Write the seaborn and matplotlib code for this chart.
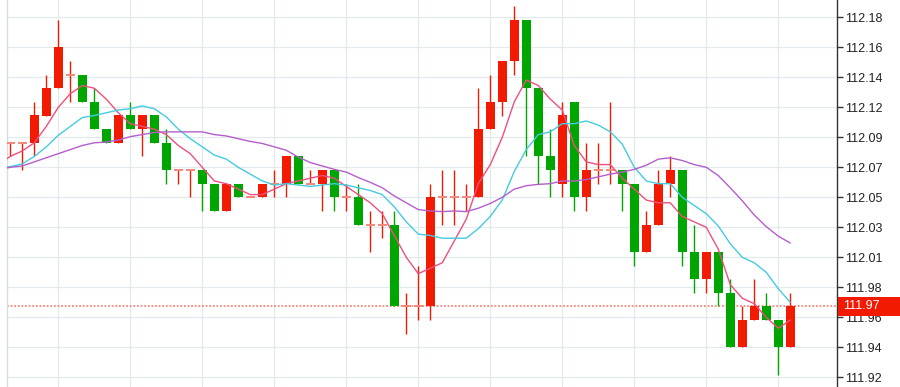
import matplotlib
matplotlib.use("Agg")
import matplotlib.pyplot as plt
from matplotlib.patches import Rectangle
import seaborn as sns
import numpy as np

# --- OHLC verisi (66 mum) ---
opens = [112.09, 112.09, 112.09, 112.11, 112.13, 112.14, 112.14, 112.12, 112.10, 112.09,
         112.11, 112.10, 112.11, 112.09, 112.07, 112.07, 112.07, 112.06, 112.04, 112.06,
         112.05, 112.05, 112.06, 112.06, 112.08, 112.06, 112.06, 112.07, 112.05, 112.05,
         112.03, 112.03, 112.03, 111.97, 111.97, 111.97, 112.05, 112.05, 112.05, 112.05,
         112.10, 112.12, 112.15, 112.18, 112.13, 112.08, 112.06, 112.12, 112.05, 112.07,
         112.07, 112.07, 112.06, 112.01, 112.03, 112.06, 112.07, 112.01, 111.99, 112.01,
         111.98, 111.94, 111.96, 111.97, 111.96, 111.94]
closes = [112.09, 112.09, 112.11, 112.13, 112.16, 112.14, 112.12, 112.10, 112.09, 112.11,
          112.10, 112.11, 112.09, 112.07, 112.07, 112.07, 112.06, 112.04, 112.06, 112.05,
          112.05, 112.06, 112.06, 112.08, 112.06, 112.06, 112.07, 112.05, 112.05, 112.03,
          112.03, 112.03, 111.97, 111.97, 111.97, 112.05, 112.05, 112.05, 112.05, 112.10,
          112.12, 112.15, 112.18, 112.13, 112.08, 112.07, 112.11, 112.05, 112.07, 112.07,
          112.07, 112.06, 112.01, 112.03, 112.06, 112.07, 112.01, 111.99, 112.01, 111.98,
          111.94, 111.96, 111.97, 111.96, 111.94, 111.97]
highs = [112.09, 112.09, 112.12, 112.14, 112.18, 112.15, 112.14, 112.13, 112.10, 112.11,
         112.12, 112.11, 112.11, 112.10, 112.07, 112.07, 112.07, 112.06, 112.06, 112.06,
         112.05, 112.06, 112.07, 112.08, 112.08, 112.07, 112.07, 112.07, 112.06, 112.06,
         112.04, 112.04, 112.04, 111.98, 112.00, 112.06, 112.07, 112.07, 112.06, 112.13,
         112.14, 112.15, 112.19, 112.18, 112.13, 112.10, 112.12, 112.12, 112.09, 112.09,
         112.12, 112.07, 112.06, 112.04, 112.07, 112.08, 112.07, 112.03, 112.01, 112.01,
         111.99, 111.97, 111.99, 111.98, 111.96, 111.98]
lows = [112.08, 112.07, 112.08, 112.11, 112.13, 112.12, 112.12, 112.10, 112.09, 112.09,
        112.10, 112.08, 112.09, 112.06, 112.06, 112.05, 112.04, 112.04, 112.04, 112.05,
        112.05, 112.05, 112.05, 112.05, 112.06, 112.06, 112.04, 112.04, 112.04, 112.03,
        112.01, 112.02, 111.97, 111.95, 111.96, 111.96, 112.03, 112.03, 112.04, 112.05,
        112.10, 112.11, 112.14, 112.08, 112.06, 112.05, 112.05, 112.04, 112.04, 112.06,
        112.06, 112.04, 112.00, 112.01, 112.03, 112.05, 112.00, 111.98, 111.98, 111.97,
        111.94, 111.94, 111.96, 111.96, 111.92, 111.94]

# --- Hareketli ortalamalar (ilk nokta bir önceki mum) ---
ma5 = [112.074, 112.080, 112.084, 112.090, 112.102, 112.116, 112.126, 112.132, 112.130, 112.122,
       112.112, 112.104, 112.102, 112.100, 112.096, 112.088, 112.082, 112.072, 112.062, 112.060,
       112.056, 112.052, 112.052, 112.056, 112.060, 112.062, 112.064, 112.066, 112.064, 112.058,
       112.052, 112.046, 112.038, 112.022, 112.006, 111.994, 111.998, 112.002, 112.018, 112.034,
       112.060, 112.074, 112.094, 112.120, 112.136, 112.132, 112.122, 112.114, 112.088, 112.076,
       112.074, 112.074, 112.064, 112.056, 112.048, 112.046, 112.046, 112.036, 112.032, 112.028,
       112.012, 111.986, 111.976, 111.972, 111.962, 111.954, 111.960]
ma10 = [112.0715, 112.0725, 112.0745, 112.080, 112.087, 112.0955, 112.102, 112.1085, 112.110, 112.112,
        112.114, 112.115, 112.117, 112.115, 112.109, 112.100, 112.093, 112.087, 112.081, 112.078,
        112.072, 112.067, 112.062, 112.059, 112.060, 112.059, 112.058, 112.059, 112.060, 112.059,
        112.057, 112.055, 112.052, 112.043, 112.032, 112.023, 112.022, 112.020, 112.020, 112.020,
        112.027, 112.036, 112.048, 112.069, 112.085, 112.096, 112.098, 112.104, 112.104, 112.106,
        112.103, 112.098, 112.089, 112.072, 112.062, 112.060, 112.060, 112.050, 112.044, 112.038,
        112.029, 112.016, 112.006, 112.002, 111.995, 111.983, 111.973]
ma20 = [112.0705, 112.072, 112.073, 112.076, 112.079, 112.082, 112.085, 112.088, 112.090, 112.0905,
        112.092, 112.0945, 112.096, 112.0975, 112.098, 112.098, 112.098, 112.098, 112.096, 112.095,
        112.093, 112.091, 112.0895, 112.087, 112.0845, 112.0795, 112.0755, 112.073, 112.0705, 112.0685,
        112.0645, 112.061, 112.057, 112.051, 112.046, 112.041, 112.040, 112.0395, 112.040, 112.0395,
        112.042, 112.0455, 112.050, 112.056, 112.0585, 112.0595, 112.060, 112.062, 112.062, 112.063,
        112.065, 112.067, 112.0685, 112.0705, 112.0735, 112.078, 112.079, 112.077, 112.074, 112.072,
        112.066, 112.057, 112.0475, 112.037, 112.0285, 112.0215, 112.0165]

last_price = 111.97
tick_values = [111.918, 111.940, 111.962, 111.984, 112.006, 112.028, 112.050,
               112.072, 112.094, 112.116, 112.138, 112.160, 112.182]
tick_labels = ["111.92", "111.94", "111.96", "111.98", "112.01", "112.03", "112.05",
               "112.07", "112.09", "112.12", "112.14", "112.16", "112.18"]

UP = "#f21a00"
DOWN = "#00a600"
DOJI = "#f4877c"

sns.set_theme(style="white")
plt.rcParams["font.family"] = ["Liberation Sans", "DejaVu Sans"]

fig = plt.figure(figsize=(9, 3.87), dpi=100)
ax = fig.add_axes([7 / 900, 0, (836.7 - 7) / 900, 1])

o = np.array(opens)
c = np.array(closes)
h = np.array(highs)
l = np.array(lows)
x = np.arange(len(o))
ma_x = np.arange(-1, len(o))

wick_colors = [UP if cc >= oo else DOWN for oo, cc in zip(o, c)]
ax.vlines(x, l, h, colors=wick_colors, lw=1.0, zorder=2)

body = np.abs(c - o) > 1e-9
ax.bar(x[body], np.abs(c - o)[body], bottom=np.minimum(o, c)[body], width=0.72,
       color=[wick_colors[i] for i in x[body]], linewidth=0, zorder=3)
ax.hlines(o[~body], x[~body] - 0.36, x[~body] + 0.36, colors=DOJI, lw=1.4, zorder=3)

# hareketli ortalamalar
sns.lineplot(x=ma_x, y=ma5, ax=ax, color="#ee4f7f", lw=1.0, zorder=4, legend=False)
sns.lineplot(x=ma_x, y=ma10, ax=ax, color="#45cbdf", lw=1.0, zorder=4, legend=False)
sns.lineplot(x=ma_x, y=ma20, ax=ax, color="#b45ecb", lw=1.0, zorder=4, legend=False)

# son fiyat çizgisi
ax.axhline(last_price, color="#f2877d", lw=1.3, linestyle=(0, (1, 1)), zorder=1.5)

ax.set_xlim(-0.275, 68.87)
ax.set_ylim(111.9109, 112.1947)

ax.set_xticks(range(4, 69, 6))
ax.set_xticklabels([])
ax.tick_params(axis="x", length=0)
ax.yaxis.tick_right()
ax.set_yticks(tick_values)
ax.set_yticklabels(tick_labels)
ax.tick_params(axis="y", length=4, width=1, color="#333333", labelsize=9,
               labelcolor="#222222", pad=2)
ax.grid(True, color="#e2e9ef", lw=0.9)
ax.set_axisbelow(True)
ax.set_xlabel("")
ax.set_ylabel("")

for side in ["top", "bottom"]:
    ax.spines[side].set_visible(False)
ax.spines["right"].set_color("#333333")
ax.spines["right"].set_linewidth(1)
ax.spines["left"].set_color("#d6dde4")
ax.spines["left"].set_linewidth(1)

# fiyat etiketi
trans = ax.get_yaxis_transform()
x0 = (838 - 7) / (836.7 - 7)
x1 = (900 - 7) / (836.7 - 7)
box_h = 18.3 / 1363.6
ax.add_patch(Rectangle((x0, last_price - box_h / 2), x1 - x0, box_h, transform=trans,
                       facecolor="#f21a00", edgecolor="none", clip_on=False, zorder=5))
ax.text((843 - 7) / (836.7 - 7), last_price, "111.97", transform=trans, color="white",
        fontsize=9, va="center", ha="left", clip_on=False, zorder=6)

fig.savefig("out.png", dpi=100)
